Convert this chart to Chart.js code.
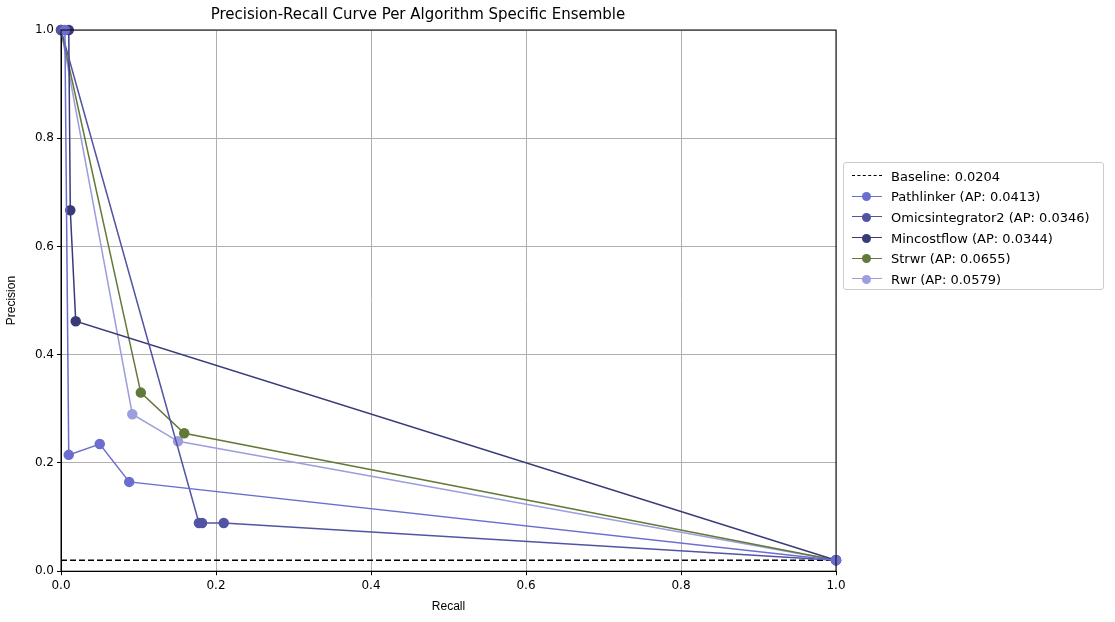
<!DOCTYPE html><html><head><script src="https://cdn.jsdelivr.net/npm/chart.js"></script>
<style>body{margin:0;background:#fff;font-family:"DejaVu Sans"}#w{position:relative;width:1115px;height:622px}
#lg{position:absolute;left:843px;top:162px;width:261px;height:128px;border:1px solid #ccc;border-radius:3px;font:13px "DejaVu Sans";box-sizing:border-box;padding:3px 0 0 8px}
.r{height:20.6px;display:flex;align-items:center}.s{width:30px;height:12px;position:relative;margin-right:9px}</style></head><body>
<div id="w"><canvas id="c" width="1115" height="622"></canvas><div id="lg"></div></div>
<script>
const names=["Baseline: 0.0204","Pathlinker (AP: 0.0413)","Omicsintegrator2 (AP: 0.0346)","Mincostflow (AP: 0.0344)","Strwr (AP: 0.0655)","Rwr (AP: 0.0579)"];
const colors=["#000000","#6b6ecf","#5254a3","#393b79","#637939","#9c9ede"];
const baselineX=[0,1],baselineY=[0.0204,0.0204];
const pathX=[0.005,0.01,0.05,0.088,1],pathY=[1,0.215,0.235,0.165,0.0204];
const omicsX=[0,0.178,0.182,0.21,1],omicsY=[1,0.089,0.089,0.089,0.0204];
const minX=[0.01,0.012,0.019,1],minY=[1,0.667,0.462,0.0204];
const strX=[0,0.103,0.159,1],strY=[1,0.33,0.255,0.0204];
const rwrX=[0,0.092,0.151,1],rwrY=[1,0.29,0.24,0.0204];
const xs=[baselineX,pathX,omicsX,minX,strX,rwrX],ys=[baselineY,pathY,omicsY,minY,strY,rwrY];
const ds=xs.map((x,i)=>({label:names[i],data:x.map((v,j)=>({x:v,y:ys[i][j]})),borderColor:colors[i],backgroundColor:colors[i],borderWidth:i?1.5:1.5,borderDash:i?[]:[6,3],pointRadius:i?4.5:0,pointHoverRadius:0,tension:0,clip:false}));
ds.push(ds.shift()); // baseline drawn... keep order in legend via html
const lg=document.getElementById('lg');
names.forEach((n,i)=>{lg.innerHTML+=`<div class="r"><div class="s"><div style="position:absolute;top:5px;left:0;width:30px;border-top:1.5px ${i?'solid':'dashed'} ${colors[i]}"></div>${i?`<div style="position:absolute;left:10px;top:1.5px;width:9px;height:9px;border-radius:50%;background:${colors[i]}"></div>`:''}</div>${n}</div>`});
const tk={color:'#000',font:{size:12,family:'DejaVu Sans'},callback:v=>v.toFixed(1)};
new Chart(document.getElementById('c'),{type:'line',data:{datasets:ds},options:{responsive:false,animation:false,
layout:{padding:{top:0,right:279,left:0,bottom:4}},
plugins:{legend:{display:false},tooltip:{enabled:false},title:{display:true,text:'Precision-Recall Curve Per Algorithm Specific Ensemble',color:'#000',font:{size:15,weight:'normal',family:'DejaVu Sans'},padding:{top:6,bottom:6}}},
scales:{x:{type:'linear',min:0,max:1,ticks:{...tk,stepSize:0.2},title:{display:true,text:'Recall',color:'#000',font:{size:12}},grid:{color:'#b0b0b0',tickColor:'#000',tickLength:4},border:{color:'#000'}},
y:{type:'linear',min:0,max:1,ticks:{...tk,stepSize:0.2},title:{display:true,text:'Precision',color:'#000',font:{size:12}},grid:{color:'#b0b0b0',tickColor:'#000',tickLength:4},border:{color:'#000'},afterFit:s=>{s.width=61}}}},
plugins:[{id:'frame',afterDraw(c){const a=c.chartArea,x=c.ctx;x.save();x.strokeStyle='#000';x.lineWidth=1;x.strokeRect(a.left,a.top,a.right-a.left,a.bottom-a.top);x.restore();}}]});
</script></body></html>
